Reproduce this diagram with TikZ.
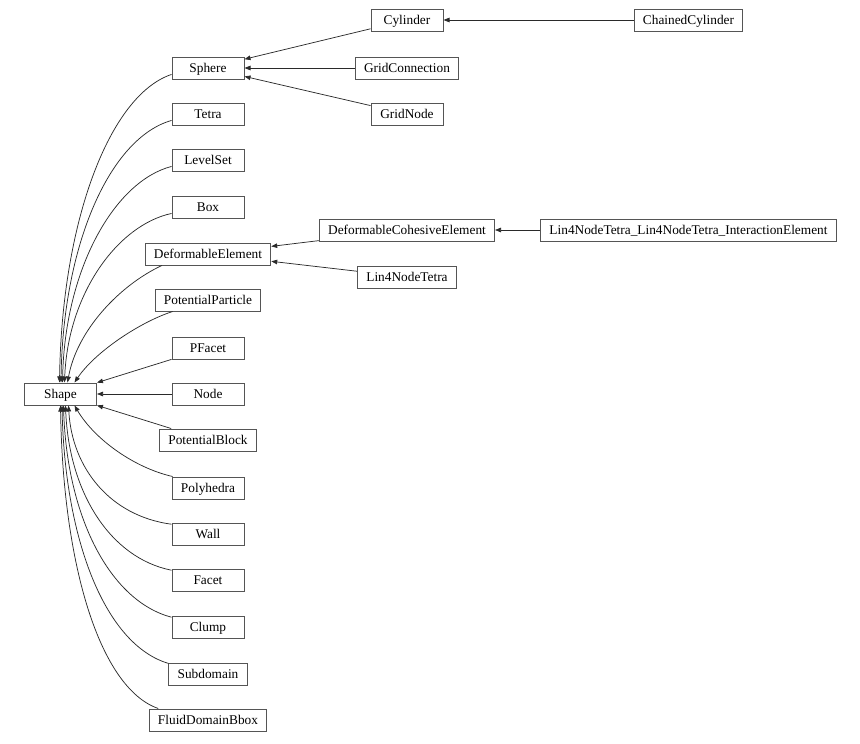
\documentclass[tikz,border=0pt]{standalone}
\usepackage{fontspec}
\setmainfont{Liberation Serif}
\usepackage{tikz}
\usetikzlibrary{arrows.meta,calc}
\definecolor{cBorder}{HTML}{555555}
\definecolor{cEdge}{HTML}{2A2A2A}
\tikzset{
  cls/.style={draw=cBorder,fill=white,line width=0.75pt,minimum width=54pt,minimum height=16.5pt,
    inner xsep=6.5pt,inner ysep=2pt,text height=7pt,text depth=0.5pt,font=\fontsize{10}{12}\selectfont,text=black},
  inh/.style={-{Triangle[length=4.5pt,width=3.4pt]},line width=0.55pt,color=cEdge},
}

\begin{document}
\begin{tikzpicture}[x=0.75pt,y=-0.75pt]
    \useasboundingbox (0,0) rectangle (860,743);
    \node[cls] (shape)    at (60.5,394) {Shape};
    \node[cls] (sphere)   at (208,68)   {Sphere};
    \node[cls] (tetra)    at (208,114)  {Tetra};
    \node[cls] (levelset) at (208,160)  {LevelSet};
    \node[cls] (box)      at (208,207)  {Box};
    \node[cls] (defelem)  at (208,254)  {DeformableElement};
    \node[cls] (potpart)  at (208,300)  {PotentialParticle};
    \node[cls] (pfacet)   at (208,348)  {PFacet};
    \node[cls] (node)     at (208,394)  {Node};
    \node[cls] (potblock) at (208,440)  {PotentialBlock};
    \node[cls] (polyh)    at (208,488)  {Polyhedra};
    \node[cls] (wall)     at (208,534)  {Wall};
    \node[cls] (facet)    at (208,580)  {Facet};
    \node[cls] (clump)    at (208,627)  {Clump};
    \node[cls] (subdom)   at (208,674)  {Subdomain};
    \node[cls] (fluidbb)  at (208,720)  {FluidDomainBbox};
    \node[cls] (cyl)      at (407,20)   {Cylinder};
    \node[cls] (gridconn) at (407,68)   {GridConnection};
    \node[cls] (gridnode) at (407,114)  {GridNode};
    \node[cls] (chaincyl) at (688.5,20) {ChainedCylinder};
    \node[cls] (defcoh)   at (407,230)  {DeformableCohesiveElement};
    \node[cls] (lin4)     at (407,277)  {Lin4NodeTetra};
    \node[cls] (lin4int)  at (688.5,230) {Lin4NodeTetra\_Lin4NodeTetra\_InteractionElement};
    \draw[inh] (sphere.190) .. controls (110,95) and (62,220) .. ($(shape.north)+(-1,0)$);
    \draw[inh] (tetra.190) .. controls (110,138) and (63,244) .. ($(shape.north)+(0.5,0)$);
    \draw[inh] (levelset.190) .. controls (115,181) and (65,268) .. ($(shape.north)+(2,0)$);
    \draw[inh] (box.190) .. controls (118,225) and (68,293) .. ($(shape.north)+(4,0)$);
    \draw[inh] (defelem.194) .. controls (120,285) and (77,330) .. ($(shape.north)+(7,0)$);
    \draw[inh] (potpart.198) .. controls (140,322) and (95,352) .. ($(shape.north)+(14,0)$);
    \draw[inh] (pfacet) -- (shape);
    \draw[inh] (node) -- (shape);
    \draw[inh] (potblock) -- (shape);
    \draw[inh] (polyh.162) .. controls (135,468) and (95,440) .. ($(shape.south)+(14,0)$);
    \draw[inh] (wall.165) .. controls (110,516) and (72,468) .. ($(shape.south)+(8,0)$);
    \draw[inh] (facet.165) .. controls (110,558) and (69,492) .. ($(shape.south)+(5,0)$);
    \draw[inh] (clump.165) .. controls (110,601) and (67,517) .. ($(shape.south)+(3,0)$);
    \draw[inh] (subdom.165) .. controls (106,645) and (65,542) .. ($(shape.south)+(1.5,0)$);
    \draw[inh] (fluidbb.167) .. controls (100,688) and (63,566) .. ($(shape.south)+(0,0)$);
    \draw[inh] (cyl) -- (sphere);
    \draw[inh] (gridconn) -- (sphere);
    \draw[inh] (gridnode) -- (sphere);
    \draw[inh] (chaincyl) -- (cyl);
    \draw[inh] (defcoh) -- (defelem);
    \draw[inh] (lin4) -- (defelem);
    \draw[inh] (lin4int) -- (defcoh);
\end{tikzpicture}
\end{document}
